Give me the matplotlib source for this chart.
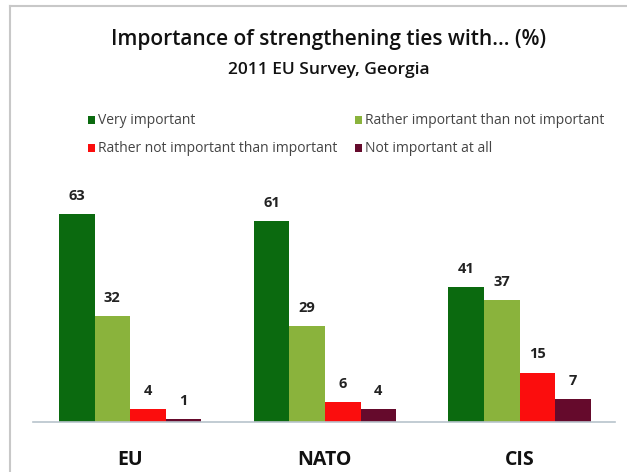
import matplotlib.pyplot as plt
from matplotlib.patches import Rectangle
from matplotlib.lines import Line2D

categories = ["EU", "NATO", "CIS"]
series_names = ["Very important", "Rather important than not important",
                "Rather not important than important", "Not important at all"]
very = [63, 61, 41]
rather = [32, 29, 37]
rather_not = [4, 6, 15]
not_at_all = [1, 4, 7]
colors = ["#0b6a0f", "#8ab33c", "#fb0d0d", "#650a2c"]

W, H = 627, 472
fig = plt.figure(figsize=(W / 100, H / 100), dpi=100)
plt.rcParams['font.family'] = ['Open Sans', 'DejaVu Sans']

# Outer frame (only left and top visible)
top = 1 - 6 / H
left = 10 / W
fig.add_artist(Line2D([left, 1.0], [top, top], transform=fig.transFigure,
                      color="#c8c8c8", linewidth=1.5))
fig.add_artist(Line2D([left, left], [0.0, top], transform=fig.transFigure,
                      color="#c8c8c8", linewidth=1.5))

# Axes placement: baseline y=422 px, x from 33 to 615 px
ax = fig.add_axes([33 / W, (H - 422) / H, 582 / W, 231 / H])
ax.set_ylim(0, 70)
ax.set_xlim(-0.499, 2.49)

w = 0.183
offsets = [-1.5 * w, -0.5 * w, 0.5 * w, 1.5 * w]
x = range(len(categories))
for vals, off, col in zip([very, rather, rather_not, not_at_all], offsets, colors):
    xs = [i + off for i in x]
    ax.bar(xs, vals, width=w, color=col, edgecolor="none")
    for xi, v in zip(xs, vals):
        ax.text(xi, v + 5.5, str(v), ha="center", va="center",
                fontsize=10.5, fontweight="bold", color="#222222")

for s in ["top", "right", "left"]:
    ax.spines[s].set_visible(False)
ax.spines["bottom"].set_color("#b8c4cc")
ax.spines["bottom"].set_linewidth(1.2)
ax.set_yticks([])
ax.set_xticks(list(x))
ax.set_xticklabels(categories, fontsize=14, fontweight="bold", color="#111111")
ax.tick_params(axis="x", length=0, pad=20)

# Titles
fig.text(329 / W, 1 - 40 / H, "Importance of strengthening ties with... (%)",
         ha="center", va="center", fontsize=15, fontweight="semibold", color="#111111")
fig.text(329 / W, 1 - 70 / H, "2011 EU Survey, Georgia",
         ha="center", va="center", fontsize=12.5, fontweight="semibold", color="#111111")

# Legend
leg_pos = [(88, 120), (355, 120), (88, 148), (355, 148)]
for (px, py), name, col in zip(leg_pos, series_names, colors):
    fig.patches.append(Rectangle((px / W, 1 - (py + 4) / H), 7 / W, 8 / H,
                                 transform=fig.transFigure, facecolor=col,
                                 edgecolor="none"))
    fig.text((px + 10) / W, 1 - py / H, name, ha="left", va="center",
             fontsize=10, color="#444444")

fig.savefig("out.png", dpi=100)
